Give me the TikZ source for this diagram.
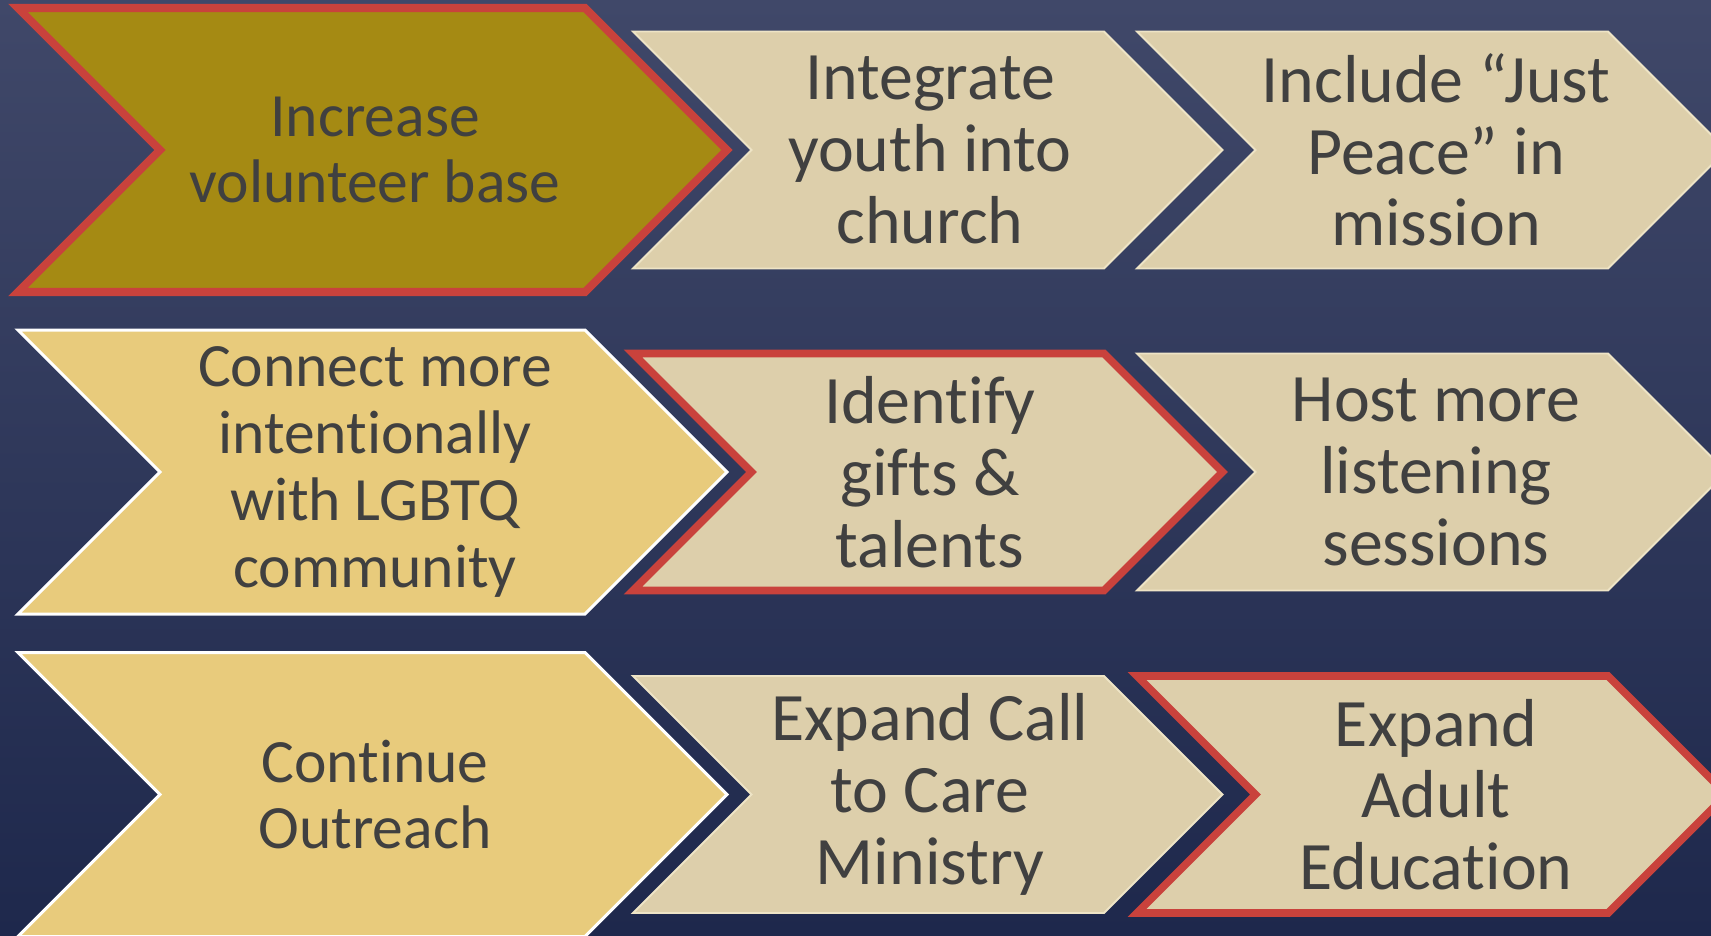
\documentclass[tikz,border=0pt]{standalone}
\usepackage{fontspec}
\setmainfont[Ligatures=NoCommon]{Carlito}
\definecolor{bgtop}{RGB}{64,72,105}
\definecolor{bgbot}{RGB}{30,40,76}
\definecolor{goldc}{RGB}{165,138,19}
\definecolor{lgoldc}{RGB}{232,203,124}
\definecolor{beigec}{RGB}{221,207,171}
\definecolor{beigeln}{RGB}{238,228,198}
\definecolor{redc}{RGB}{201,66,60}
\definecolor{txtc}{RGB}{64,64,64}
\newcommand\chev[5]{%
  \path[#1] (#2,#3-#4) -- (#2+#5,#3-#4) -- (#2+#5+#4,#3) -- (#2+#5,#3+#4)
    -- (#2,#3+#4) -- (#2+#4,#3) -- cycle;}
\begin{document}
\begin{tikzpicture}[x=0.01cm,y=-0.01cm,
  goldred/.style={fill=goldc, draw=redc, line width=2.3pt, line join=miter},
  lgold/.style={fill=lgoldc, draw=white, line width=0.85pt, line join=miter},
  beige/.style={fill=beigec, draw=beigeln, line width=0.55pt, line join=miter},
  beigered/.style={fill=beigec, draw=redc, line width=2.2pt, line join=miter},
  lbl/.style={text=txtc, align=center, inner sep=0pt,
    font=\fontsize{17.5}{19}\selectfont},
  lblb/.style={lbl, font=\fontsize{19.3}{20.4}\selectfont}]
\useasboundingbox (0,0) rectangle (1711,935);
\clip (0,0) rectangle (1711,935);
\shade[top color=bgtop, bottom color=bgbot] (0,0) rectangle (1711,935);
% row 1
\chev{goldred}{18}{150}{142}{567}
\chev{beige}{633}{150}{118.5}{471}
\chev{beige}{1137}{150}{118.5}{471}
% row 2
\chev{lgold}{18}{472}{142}{567}
\chev{beigered}{633}{472}{118.5}{471}
\chev{beige}{1137}{472}{118.5}{471}
% row 3
\chev{lgold}{18}{794.5}{142}{567}
\chev{beige}{633}{794.5}{118.5}{471}
\chev{beigered}{1137}{794.5}{118.5}{471}
% labels
\node[lbl] (t11) at (375,150) {Increase\\volunteer base};
\node[lblb] (t12) at (930,150) {Integrate\\youth into\\church};
\node[lblb] (t13) at (1436,150) {Include “Just\\Peace” in\\mission};
\node[lbl] (t21) at (375,472) {Connect more\\intentionally\\with LGBTQ\\community};
\node[lblb] (t22) at (930,472) {Identify\\gifts \&\\talents};
\node[lblb] (t23) at (1436,472) {Host more\\listening\\sessions};
\node[lbl] (t31) at (375,794.5) {Continue\\Outreach};
\node[lblb] (t32) at (930,794.5) {Expand Call\\to Care\\Ministry};
\node[lblb] (t33) at (1436,794.5) {Expand\\Adult\\Education};
\end{tikzpicture}
\end{document}
